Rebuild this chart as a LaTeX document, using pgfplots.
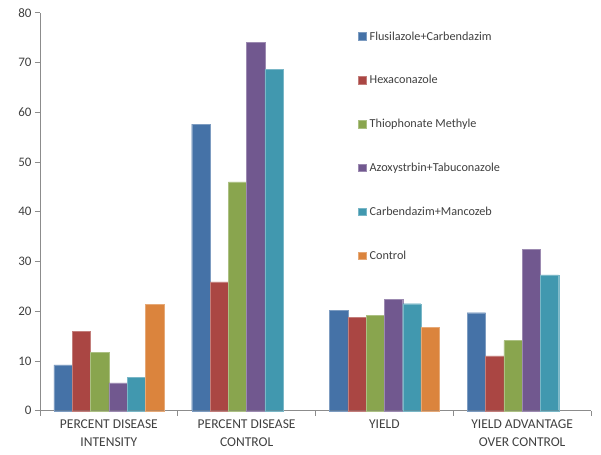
\documentclass[border=0pt]{standalone}
\usepackage{pgfplots}
\pgfplotsset{compat=1.18}
\usepackage{fontspec}
\setmainfont{Carlito}
\definecolor{c1}{HTML}{4572A7}
\definecolor{c2}{HTML}{AA4643}
\definecolor{c3}{HTML}{89A54E}
\definecolor{c4}{HTML}{71588F}
\definecolor{c5}{HTML}{4198AF}
\definecolor{c6}{HTML}{DB843D}
\definecolor{axgray}{HTML}{8C8C8C}
\definecolor{txt}{HTML}{404040}
\begin{document}
\begin{tikzpicture}
\begin{axis}[
  scale only axis, width=551bp, height=398bp,
  xmin=-0.5, xmax=3.5, ymin=0, ymax=80,
  axis x line*=bottom, axis y line*=left,
  axis line style={axgray, line width=0.8bp},
  every outer x axis line/.append style={-}, every outer y axis line/.append style={-},
  ytick={0,10,...,80},
  xtick={0,1,2,3},
  xticklabels={{PERCENT DISEASE\\INTENSITY},{PERCENT DISEASE\\CONTROL},{YIELD},{YIELD ADVANTAGE\\OVER CONTROL}},
  xticklabel style={align=center, font=\fontsize{13.5bp}{18bp}\selectfont, text=txt, yshift=-1bp},
  yticklabel style={font=\fontsize{13bp}{15bp}\selectfont, text=txt},
  /pgf/number format/assume math mode=true,
  major x tick style={draw=none},
  minor xtick={-0.5,0.5,1.5,2.5,3.5},
  minor tick length=5bp, major tick length=5bp,
  tick align=outside,
  tick style={axgray, line width=0.8bp},
  legend cell align=left,
  legend style={at={(0.572,0.963)}, anchor=north west, draw=none, fill=none,
    font=\fontsize{12.2bp}{14bp}\selectfont, text=txt, row sep=29.9bp,
    /tikz/every odd column/.append style={column sep=1.5bp}},
  legend image code/.code={\fill[#1] (0bp,-3.5bp) rectangle (7.5bp,4bp);},
  clip=false,
]
\coordinate (ll) at (rel axis cs:0,0);
\coordinate (ur) at (rel axis cs:1,1);
\addplot[ybar, bar width=18.3bp, bar shift=-45.75bp, fill=c1, draw=c1!70!white, line width=0.3bp] coordinates {(0,9.2) (1,57.6) (2,20.2) (3,19.7)};
\addlegendentry{Flusilazole+Carbendazim}
\addplot[ybar, bar width=18.3bp, bar shift=-27.45bp, fill=c2, draw=c2!70!white, line width=0.3bp] coordinates {(0,15.9) (1,25.9) (2,18.8) (3,11.0)};
\addlegendentry{Hexaconazole}
\addplot[ybar, bar width=18.3bp, bar shift=-9.15bp, fill=c3, draw=c3!70!white, line width=0.3bp] coordinates {(0,11.7) (1,46.0) (2,19.2) (3,14.1)};
\addlegendentry{Thiophonate Methyle}
\addplot[ybar, bar width=18.3bp, bar shift=9.15bp, fill=c4, draw=c4!70!white, line width=0.3bp] coordinates {(0,5.6) (1,74.0) (2,22.4) (3,32.4)};
\addlegendentry{Azoxystrbin+Tabuconazole}
\addplot[ybar, bar width=18.3bp, bar shift=27.45bp, fill=c5, draw=c5!70!white, line width=0.3bp] coordinates {(0,6.7) (1,68.6) (2,21.5) (3,27.3)};
\addlegendentry{Carbendazim+Mancozeb}
\addplot[ybar, bar width=18.3bp, bar shift=45.75bp, fill=c6, draw=c6!70!white, line width=0.3bp] coordinates {(0,21.4) (2,16.8)};
\addlegendentry{Control}
\end{axis}
\pgfresetboundingbox
\path (ll) ++(-40bp,-44.3bp) coordinate (a) (ur) ++(10bp,12.7bp) coordinate (b);
\path[use as bounding box] (a) rectangle (b);
\end{tikzpicture}
\end{document}
